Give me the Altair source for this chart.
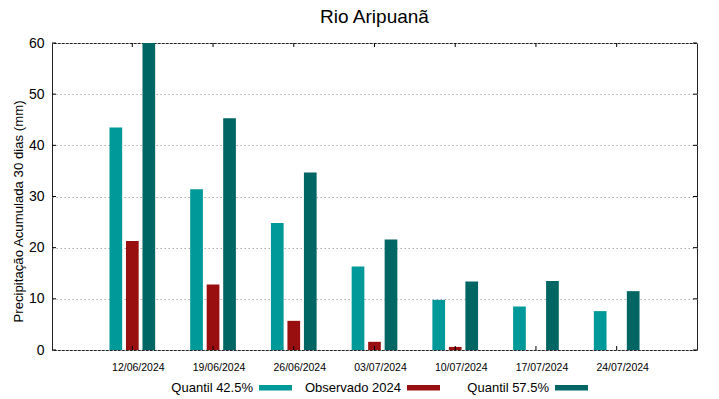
import altair as alt
import pandas as pd

datas = ["12/06/2024", "19/06/2024", "26/06/2024", "03/07/2024",
         "10/07/2024", "17/07/2024", "24/07/2024"]
series = ["Quantil 42.5%", "Observado 2024", "Quantil 57.5%"]
q425 = [43.5, 31.4, 24.8, 16.3, 9.8, 8.5, 7.6]
obs2024 = [21.3, 12.8, 5.7, 1.6, 0.6, None, None]
q575 = [60.0, 45.3, 34.7, 21.6, 13.4, 13.5, 11.5]
cores = ["#009999", "#990f0f", "#006663"]
y_ticks = [0, 10, 20, 30, 40, 50, 60]

rows = []
for serie, vals in zip(series, [q425, obs2024, q575]):
    for d, v in zip(datas, vals):
        rows.append({"data": d, "serie": serie, "valor": v})
df = pd.DataFrame(rows)
df_dates = pd.DataFrame({"data": datas})
df_y = pd.DataFrame({"valor": y_ticks})

W, H = 645, 307
FONT = "Liberation Sans"

x_scale = alt.Scale(domain=datas, paddingInner=0.434, paddingOuter=0.712)
y_scale = alt.Scale(domain=[0, 60], nice=False)
x_axis = alt.Axis(title=None, ticks=False, domain=False, labelAngle=0,
                  labelFontSize=10.5, labelPadding=12, labelOffset=6,
                  labelColor="#000", labelFont=FONT, grid=False)
y_axis = alt.Axis(title="Precipitação Acumulada 30 dias (mm)", values=y_ticks,
                  ticks=False, domain=False, labelFontSize=14, labelPadding=8,
                  labelColor="#000", labelFont=FONT,
                  titleFontSize=13.2, titleFontWeight="normal", titleFont=FONT,
                  titleColor="#000", titleX=-34, titleY=168,
                  titleAlign="center", titleBaseline="middle",
                  grid=True, gridColor="#aaa", gridDash=[1.5, 2.5], gridWidth=1)

bars = alt.Chart(df).mark_bar().encode(
    x=alt.X("data:N", scale=x_scale, sort=datas, axis=x_axis),
    xOffset=alt.XOffset("serie:N", sort=series,
                        scale=alt.Scale(domain=series, paddingInner=0.23, paddingOuter=0)),
    y=alt.Y("valor:Q", scale=y_scale, axis=y_axis),
    color=alt.Color("serie:N", sort=series,
                    scale=alt.Scale(domain=series, range=cores),
                    legend=alt.Legend(title=None, orient="none", direction="horizontal",
                                      columns=3, gridAlign="all",
                                      legendX=207, legendY=328,
                                      labelFontSize=13, labelFont=FONT, labelColor="#000",
                                      labelAlign="right", labelOffset={"expr": "-39"},
                                      columnPadding=12,
                                      symbolType="M-1,-0.16H1V0.16H-1Z",
                                      symbolSize=1089, symbolStrokeWidth=0)),
)

xticks_bottom = alt.Chart(df_dates).mark_rule(color="#000", strokeWidth=1).encode(
    x=alt.X("data:N", scale=x_scale, sort=datas, axis=x_axis),
    y=alt.value(H), y2=alt.value(H - 4))
xticks_top = alt.Chart(df_dates).mark_rule(color="#000", strokeWidth=1).encode(
    x=alt.X("data:N", scale=x_scale, sort=datas, axis=x_axis),
    y=alt.value(0), y2=alt.value(4))
yticks_left = alt.Chart(df_y).mark_rule(color="#000", strokeWidth=1).encode(
    y=alt.Y("valor:Q", scale=y_scale, axis=y_axis), x=alt.value(0), x2=alt.value(4))
yticks_right = alt.Chart(df_y).mark_rule(color="#000", strokeWidth=1).encode(
    y=alt.Y("valor:Q", scale=y_scale, axis=y_axis), x=alt.value(W), x2=alt.value(W - 4))

chart = alt.layer(bars, xticks_bottom, xticks_top, yticks_left, yticks_right).properties(
    width=W, height=H,
    title=alt.TitleParams("Rio Aripuanã", fontSize=19, fontWeight="normal", font=FONT,
                          color="#000", anchor="middle", frame="group", offset=9),
    autosize=alt.AutoSizeParams(type="none"),
    padding={"left": 44, "top": 35, "right": 14, "bottom": 47},
    background="white",
).configure_view(stroke="#222", strokeWidth=1).configure_axisY(
    titleX=-34, titleY=168, titleAlign="center", titleBaseline="middle")

chart.save("out.html", embed_options={"renderer": "svg", "actions": False})
